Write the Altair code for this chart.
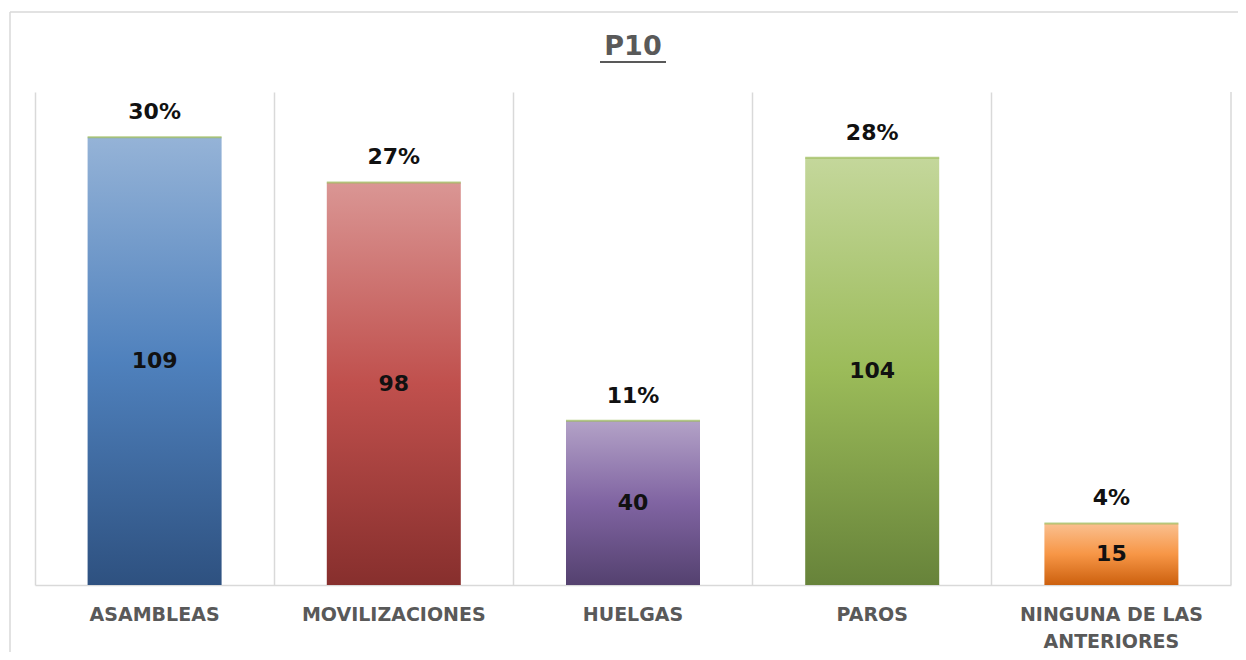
import altair as alt
import pandas as pd

categories = ["ASAMBLEAS", "MOVILIZACIONES", "HUELGAS", "PAROS", "NINGUNA DE LAS ANTERIORES"]
counts = [109, 98, 40, 104, 15]
percents = ["30%", "27%", "11%", "28%", "4%"]
grad_top = ["#95B3D7", "#DA9694", "#B3A2C7", "#C4D79B", "#FAC090"]
grad_mid = ["#4F81BD", "#C0504D", "#8064A2", "#9BBB59", "#F79646"]
grad_bottom = ["#2E5180", "#872F2D", "#54416F", "#67833A", "#CC600E"]
title_text = ["P10"]

W, H = 1196, 493
GRID = "#D9D9D9"
FONT = "DejaVu Sans"

df = pd.DataFrame({"cat": categories, "n": counts, "pct": percents})
df["half"] = df["n"] / 2

x_enc = alt.X(
    "cat:N",
    sort=categories,
    scale=alt.Scale(paddingInner=0, paddingOuter=0),
    axis=alt.Axis(
        title=None,
        labelAngle=0,
        labelFont=FONT,
        labelFontSize=19,
        labelFontWeight="bold",
        labelColor="#595959",
        labelPadding=20,
        labelLineHeight=27,
        labelLimit=300,
        labelExpr="datum.value == 'NINGUNA DE LAS ANTERIORES' ? ['NINGUNA DE LAS', 'ANTERIORES'] : datum.label",
        ticks=False,
        grid=True,
        gridColor=GRID,
        gridWidth=1.5,
        bandPosition=0,
        domainColor=GRID,
        domainWidth=1.5,
    ),
)
y_scale = alt.Scale(domain=[0, 120])

base = alt.Chart(df).encode(x=x_enc)

layers = []
for i, cat in enumerate(categories):
    grad = alt.Gradient(
        gradient="linear",
        stops=[
            alt.GradientStop(offset=0, color=grad_top[i]),
            alt.GradientStop(offset=0.5, color=grad_mid[i]),
            alt.GradientStop(offset=1, color=grad_bottom[i]),
        ],
        x1=0, x2=0, y1=0, y2=1,
    )
    layers.append(
        base.transform_filter(alt.datum.cat == cat)
        .mark_bar(width=134, fill=grad)
        .encode(y=alt.Y("n:Q", scale=y_scale, axis=None))
    )

top_line = base.mark_tick(size=134, thickness=2, color="#9BBB59").encode(
    y=alt.Y("n:Q", scale=y_scale, axis=None)
)

pct_text = base.mark_text(
    font=FONT, fontSize=22, fontWeight="bold", color="#111111", baseline="middle", dy=-25
).encode(y=alt.Y("n:Q", scale=y_scale, axis=None), text="pct:N")

count_text = base.mark_text(
    font=FONT, fontSize=22, fontWeight="bold", color="#111111", baseline="middle"
).encode(y=alt.Y("half:Q", scale=y_scale, axis=None), text="n:Q")

tdf = pd.DataFrame({"t": title_text})
title_mark = alt.Chart(tdf).mark_text(
    font=FONT, fontSize=27, fontWeight="bold", color="#595959", baseline="alphabetic", align="center"
).encode(x=alt.value(W / 2), y=alt.value(-37), text="t:N")
underline = alt.Chart(tdf).mark_rule(color="#595959", strokeWidth=2).encode(
    x=alt.value(W / 2 - 33), x2=alt.value(W / 2 + 33), y=alt.value(-30)
)

right_edge = alt.Chart(tdf).mark_rule(color=GRID, strokeWidth=1.5).encode(
    x=alt.value(W), y=alt.value(0), y2=alt.value(H)
)
frame_left = alt.Chart(tdf).mark_rule(color=GRID, strokeWidth=1.5).encode(
    x=alt.value(-25), y=alt.value(-80), y2=alt.value(H + 80)
)
frame_top = alt.Chart(tdf).mark_rule(color=GRID, strokeWidth=1.5).encode(
    x=alt.value(-25), x2=alt.value(W + 40), y=alt.value(-80)
)

chart = (
    alt.layer(frame_left, frame_top, right_edge, *layers, top_line, pct_text, count_text, title_mark, underline)
    .properties(
        width=W,
        height=H,
        autosize=alt.AutoSizeParams(type="none"),
        padding={"left": 27, "top": 84, "right": 7, "bottom": 67},
    )
    .configure_view(stroke="transparent")
)

chart.save("out.html", embed_options={"renderer": "svg", "actions": False})
